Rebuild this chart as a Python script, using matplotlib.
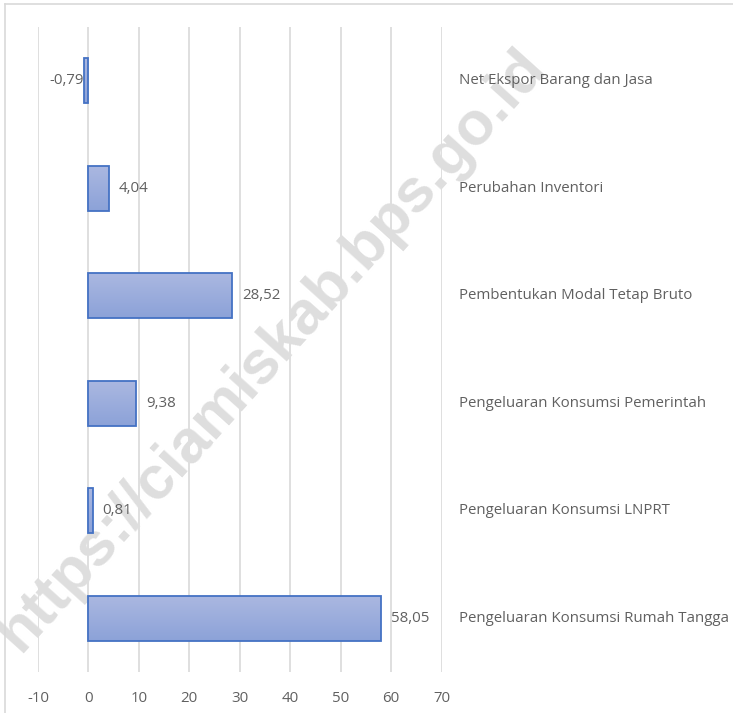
import matplotlib.pyplot as plt
import numpy as np
from matplotlib.colors import LinearSegmentedColormap

categories = ['Pengeluaran Konsumsi Rumah Tangga', 'Pengeluaran Konsumsi LNPRT',
              'Pengeluaran Konsumsi Pemerintah', 'Pembentukan Modal Tetap Bruto',
              'Perubahan Inventori', 'Net Ekspor Barang dan Jasa']
values = [58.05, 0.81, 9.38, 28.52, 4.04, -0.79]
xticks = [-10, 0, 10, 20, 30, 40, 50, 60, 70]

W, H = 733, 713
fig = plt.figure(figsize=(W / 100, H / 100), dpi=100)
ax = fig.add_axes([38 / W, 1 - 672 / H, (441.5 - 38) / W, (672 - 27) / H])

grey = '#606060'
edge = '#4472C4'
fnt = 'Open Sans'
cmap = LinearSegmentedColormap.from_list('bar', ['#8CA2D8', '#ABB8E1'])
grad = np.linspace(0, 1, 100).reshape(-1, 1)

ypos = np.arange(len(categories))
bars = ax.barh(ypos, values, height=0.42, facecolor='none', edgecolor=edge,
               linewidth=1.3, zorder=3)
for b in bars:
    x0, y0 = b.get_x(), b.get_y()
    w, h = b.get_width(), b.get_height()
    im = ax.imshow(grad, cmap=cmap, aspect='auto', origin='lower',
                   extent=[x0, x0 + w, y0, y0 + h], zorder=2)
    im.set_clip_path(b)

for y, v in zip(ypos, values):
    txt = f'{v:.2f}'.replace('.', ',')
    if v >= 0:
        ax.text(v + 2.0, y, txt, ha='left', va='center', color=grey, fontsize=10.8,
                family=fnt, zorder=4)
    else:
        ax.text(v - 0.1, y, txt, ha='right', va='center', color=grey, fontsize=10.8,
                family=fnt, zorder=4)
    # category labels on the right
    ax.text(73.4, y, categories[y], ha='left', va='center', color=grey,
            fontsize=10.8, family=fnt, clip_on=False, zorder=4)

ax.set_xlim(-10, 70)
ax.set_ylim(-0.5, len(categories) - 0.5)
ax.set_xticks(xticks)
ax.set_xticklabels([str(t) for t in xticks], color=grey, fontsize=10.8, family=fnt)
ax.tick_params(axis='x', length=0, pad=14)
ax.set_yticks([])
ax.grid(axis='x', color='#D9D9D9', linewidth=1.2, zorder=0)
ax.set_axisbelow(True)
for s in ax.spines.values():
    s.set_visible(False)

# chart frame (left and top edges visible)
fig.add_artist(plt.Line2D([5 / W, 5 / W], [0, 1 - 4 / H], color='#D9D9D9', lw=1.2))
fig.add_artist(plt.Line2D([5 / W, 1], [1 - 4 / H, 1 - 4 / H], color='#D9D9D9', lw=1.2))

# watermark, above the grid but under bars and labels
ax.text(272 / W, 1 - 350 / H, 'https://ciamiskab.bps.go.id', rotation=48,
        transform=fig.transFigure, ha='center', va='center', fontsize=44,
        fontweight='bold', color='#DEDEDE', family='Liberation Sans',
        zorder=1.5, clip_on=False)

fig.savefig('out.png', dpi=100)
